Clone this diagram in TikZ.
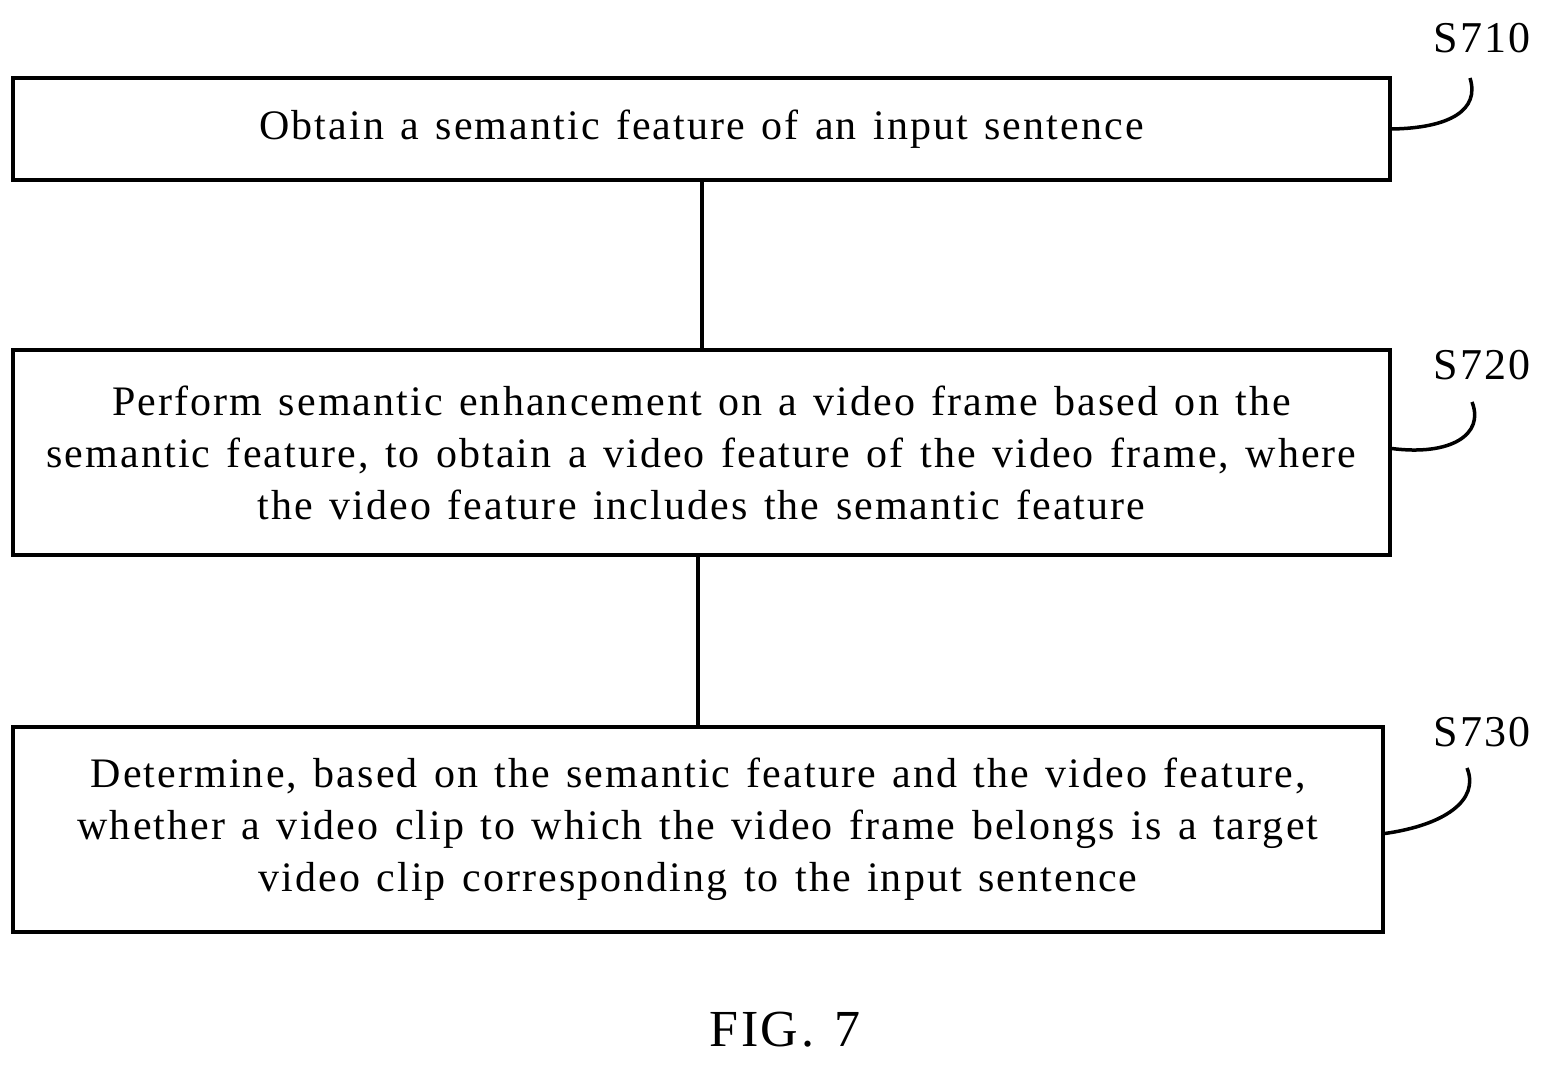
\documentclass[tikz,border=0pt]{standalone}
\usepackage{fontspec}
\setmainfont{Liberation Serif}[LetterSpace=5,WordSpace=1.3]
\begin{document}
\begin{tikzpicture}[x=1pt,y=-1pt,
  stepbox/.style={draw,line width=3.5pt,align=center,font=\fontsize{42}{52}\selectfont},
  lbl/.style={font=\fontsize{44}{46}\selectfont},
  conn/.style={line width=3.5pt}]
\useasboundingbox (0,0) rectangle (1548,1071);
\node[stepbox,minimum width=1377pt,minimum height=102pt] (b1) at (701.5,129) {\raisebox{-3pt}{Obtain a semantic feature of an input sentence}};
\node[stepbox,minimum width=1377pt,minimum height=205pt] (b2) at (701.5,452.5) {Perform semantic enhancement on a video frame based on the\\semantic feature, to obtain a video feature of the video frame, where\\the video feature includes the semantic feature};
\node[stepbox,minimum width=1370pt,minimum height=205pt] (b3) at (698,829.5) {Determine, based on the semantic feature and the video feature,\\whether a video clip to which the video frame belongs is a target\\video clip corresponding to the input sentence};
\draw[conn] (702,180) -- (702,350);
\draw[conn] (698,555) -- (698,727);
\node[lbl] (s1) at (1482,38) {S710};
\node[lbl] (s2) at (1482,365) {S720};
\node[lbl] (s3) at (1482,732) {S730};
\coordinate (c1) at (1470,78);
\coordinate (c2) at (1472,402);
\coordinate (c3) at (1467,768);
\draw[conn] (b1.east) .. controls (1450,128) and (1480,110) .. (c1);
\draw[conn] ([yshift=4pt]b2.east) .. controls (1450,456) and (1485,435) .. (c2);
\draw[conn] ([yshift=-4pt]b3.east) .. controls (1445,825) and (1480,800) .. (c3);
\node[font=\fontsize{52}{60}\selectfont] (fig) at (785,1030) {FIG. 7};
\end{tikzpicture}
\end{document}
